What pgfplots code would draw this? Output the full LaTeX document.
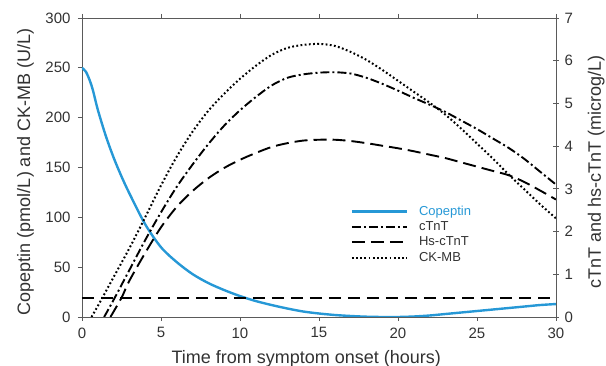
\documentclass[border=0pt]{standalone}
\usepackage{pgfplots}
\pgfplotsset{compat=1.18}
\usepackage{fontspec}
\setmainfont{Liberation Sans}
\definecolor{copblue}{RGB}{38,152,214}
\definecolor{axgray}{RGB}{90,90,90}
\definecolor{txtgray}{RGB}{50,50,50}
\tikzset{
  ctnt/.style={black, line width=1.9pt, dash pattern=on 9pt off 3pt on 2pt off 3pt},
  hstnt/.style={black, line width=1.9pt, dash pattern=on 13pt off 6pt},
  ckmb/.style={black, line width=2pt, dash pattern=on 1.8pt off 2.4pt},
}
\pgfplotsset{
  common/.style={
    scale only axis, width=474pt, height=299pt,
    xmin=0, xmax=30,
    axis line style={axgray, line width=0.9pt},
    tick style={axgray, line width=0.8pt},
    ticklabel style={font=\fontsize{15}{18}\selectfont, text=txtgray},
    /pgf/number format/assume math mode=true,
    label style={font=\fontsize{18}{21}\selectfont, text=txtgray},
  },
}
\pgfplotstableread{
t v
0 250
0.25 246
0.5 237
0.7 227
1 208
1.5 182
2 160
2.5 141
3 124
4 93
5 70
6 55
7 43
8 34
9 27
10 21
11 16
12 12
13 8.5
14 5.5
15 3.5
16 2
17 1
18 0.3
19 0
20 0
21 0.5
22 1.5
23 3
24 4.5
25 6
26 7.5
27 9
28 10.5
29 12
30 13
}\copeptin
\pgfplotstableread{
t v
0.6 0
1 11
2 40
3 69
4 100
5 132
6 161
7 186
8 207
9 224
10 239
11 252
12 263
13 270
14 273
15 274
16 272
17 266
18 258
19 248
20 237
21 226
22 215
23 203
24 189
25 174
26 159
27 143
28 128
29 113
30 99
}\ckmb
\pgfplotstableread{
t v
1.4 0
2 0.4
3 1.1
4 1.8
5 2.45
6 3.05
7 3.57
8 4.05
9 4.48
10 4.84
11 5.15
12 5.42
13 5.6
14 5.68
15 5.72
16 5.73
17 5.7
18 5.6
19 5.46
20 5.3
21 5.13
22 4.97
23 4.8
24 4.6
25 4.4
26 4.18
27 3.96
28 3.7
29 3.4
30 3.1
}\ctnt
\pgfplotstableread{
t v
1.8 0
2.5 0.45
3 0.85
4 1.5
5 2.1
6 2.58
7 2.95
8 3.25
9 3.49
10 3.68
11 3.84
12 3.98
13 4.07
14 4.13
15 4.15
16 4.15
17 4.12
18 4.07
19 4.01
20 3.95
21 3.88
22 3.8
23 3.72
24 3.62
25 3.52
26 3.42
27 3.32
28 3.16
29 2.96
30 2.75
}\hstnt
\begin{document}
\begin{tikzpicture}
\useasboundingbox (-82pt,-49pt) rectangle (524pt,317pt);
\begin{axis}[common,
  ymin=0, ymax=300,
  xtick={0,5,...,30}, ytick={0,50,...,300},
  axis y line*=left, axis x line*=box,
  tick align=outside, major tick length=4pt,
  xticklabel style={yshift=-3pt},
  yticklabel style={xshift=-4pt},
  xlabel={Time from symptom onset (hours)},
  xlabel style={at={(axis description cs:0.473,0)}, anchor=base, yshift=-47pt},
  ylabel={Copeptin (pmol/L) and CK-MB (U/L)},
  ylabel style={at={(axis description cs:-0.1097,0.485)}, anchor=base},
  legend style={at={(axis description cs:0.56,0.385)}, anchor=north west, draw=none, fill=none,
    font=\fontsize{13}{15}\selectfont, text=txtgray, row sep=0.8pt,
    /tikz/every odd column/.append style={column sep=9pt}},
  legend cell align=left,
  legend image code/.code={\draw[#1] (0pt,0pt) -- (55pt,0pt);},
]
\addplot[copblue, line width=2.4pt, smooth] table {\copeptin};
\addlegendentry{\textcolor{copblue}{Copeptin}}
\addlegendimage{ctnt}
\addlegendentry{cTnT}
\addlegendimage{hstnt}
\addlegendentry{Hs-cTnT}
\addplot[ckmb, smooth] table {\ckmb};
\addlegendentry{CK-MB}
\addplot[black, line width=1.4pt, dash pattern=on 12pt off 7pt, forget plot] coordinates {(0,19) (30,19)};
\end{axis}
\begin{axis}[common,
  ymin=0, ymax=7, ytick={0,1,...,7},
  axis y line*=right, axis x line=none,
  tick align=center, major tick length=6pt,
  yticklabel style={xshift=2pt},
  ylabel={cTnT and hs-cTnT (microg/L)},
  ylabel style={at={(axis description cs:1.0949,0.485)}, anchor=base},
]
\addplot[ctnt, smooth] table {\ctnt};
\addplot[hstnt, smooth] table {\hstnt};
\end{axis}
\end{tikzpicture}
\end{document}
